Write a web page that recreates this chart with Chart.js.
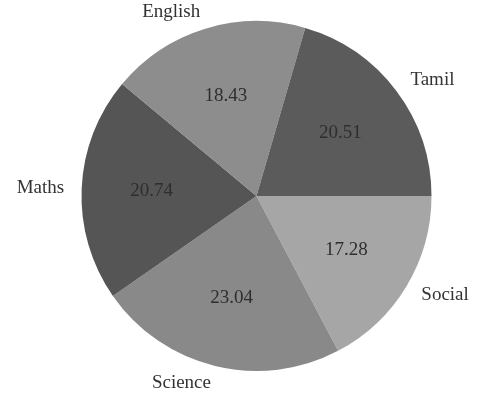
<!DOCTYPE html>
<html>
<head>
<meta charset="utf-8">
<script src="https://cdn.jsdelivr.net/npm/chart.js@4/dist/chart.umd.min.js"></script>
<style>
html,body{margin:0;padding:0;background:#fff;}
#wrap{width:477px;height:400px;position:relative;}
</style>
</head>
<body>
<div id="wrap"><canvas id="c" width="477" height="400"></canvas></div>
<script>
// Data (counter-clockwise order starting at 3 o'clock)
const subjects = ["Tamil", "English", "Maths", "Science", "Social"];
const percentages = [20.51, 18.43, 20.74, 23.04, 17.28];
const sliceColors = ["#5b5b5b", "#8d8d8d", "#555555", "#898989", "#a6a6a6"];

// Chart.js draws clockwise, so reverse to get counter-clockwise layout
const labels = subjects.slice().reverse();
const values = percentages.slice().reverse();
const colors = sliceColors.slice().reverse();

const pieLabels = {
  id: 'pieLabels',
  afterDatasetsDraw(chart) {
    const ctx = chart.ctx;
    const meta = chart.getDatasetMeta(0);
    ctx.save();
    meta.data.forEach((arc, i) => {
      const p = arc.getProps(['x','y','startAngle','endAngle','outerRadius'], true);
      const mid = (p.startAngle + p.endAngle) / 2;
      const R = p.outerRadius;
      const vx = p.x + Math.cos(mid) * R * 0.6;
      const vy = p.y + Math.sin(mid) * R * 0.6;
      ctx.fillStyle = '#2e2e2e';
      ctx.font = '19px "Liberation Serif", serif';
      ctx.textAlign = 'center';
      ctx.textBaseline = 'middle';
      ctx.fillText(chart.data.datasets[0].data[i].toFixed(2), vx, vy);
      const lx = p.x + Math.cos(mid) * R * 1.1;
      const ly = p.y + Math.sin(mid) * R * 1.1;
      ctx.font = '19px "Liberation Serif", serif';
      ctx.textAlign = Math.cos(mid) < 0 ? 'right' : 'left';
      ctx.fillStyle = '#333333';
      ctx.fillText(chart.data.labels[i], lx, ly);
    });
    ctx.restore();
  }
};

new Chart(document.getElementById('c'), {
  type: 'pie',
  data: {
    labels: labels,
    datasets: [{
      data: values,
      backgroundColor: colors,
      borderWidth: 0
    }]
  },
  options: {
    responsive: false,
    animation: false,
    rotation: 90,
    layout: { padding: { left: 81, right: 45, top: 21, bottom: 29 } },
    plugins: { legend: { display: false }, tooltip: { enabled: false } }
  },
  plugins: [pieLabels]
});
</script>
</body>
</html>
